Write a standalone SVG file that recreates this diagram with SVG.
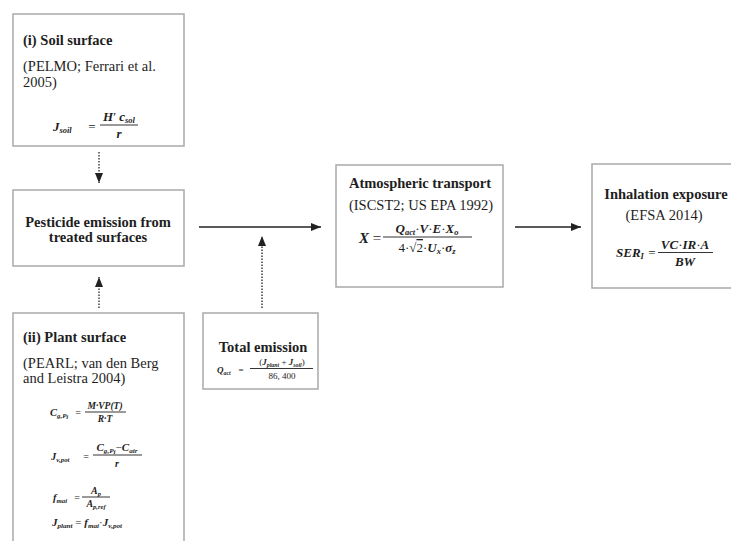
<svg xmlns="http://www.w3.org/2000/svg" width="731" height="541" viewBox="0 0 731 541">
<defs>
<style>
.box{fill:#fff;stroke:#a9a9a9;stroke-width:1.5}
.t{font-family:"Liberation Serif","Times New Roman",serif;fill:#1e1e1e}
.tb{font-family:"Liberation Serif","Times New Roman",serif;fill:#1e1e1e;font-weight:bold;font-size:14.5px}
.sub{font-family:"Liberation Serif","Times New Roman",serif;fill:#1e1e1e;font-size:14.5px}
.m{font-family:"Liberation Serif","Times New Roman",serif;fill:#1e1e1e;font-weight:bold;font-style:italic}
.n{font-style:normal;font-weight:normal}
.s{font-size:65%}
.fl{stroke:#1e1e1e;stroke-width:0.9}
.dot{stroke:#333;stroke-width:1.4;stroke-dasharray:1.5 1.5;fill:none}
.sol{stroke:#222;stroke-width:1.5;fill:none}
</style>
<marker id="ah" markerUnits="userSpaceOnUse" markerWidth="10" markerHeight="10" viewBox="0 0 10 10" refX="10" refY="5" orient="auto">
<path d="M0,1 L10,5 L0,9 Z" fill="#222"/>
</marker>
</defs>

<g id="connectors">
<line class="dot" x1="99" y1="152" x2="99" y2="183" marker-end="url(#ah)"/>
<line class="dot" x1="99" y1="308" x2="99" y2="277" marker-end="url(#ah)"/>
<line class="sol" x1="199" y1="227" x2="321" y2="227" marker-end="url(#ah)"/>
<line class="dot" x1="262" y1="308" x2="262" y2="236" marker-end="url(#ah)"/>
<line class="sol" x1="515" y1="227" x2="581" y2="227" marker-end="url(#ah)"/>
</g>

<g id="soil">
<rect class="box" x="13" y="14" width="171" height="132"/>
<text class="tb" x="23" y="45">(i) Soil surface</text>
<text class="sub" x="23" y="71">(PELMO; Ferrari et al.</text>
<text class="sub" x="23" y="87">2005)</text>
<text class="m" x="53" y="131" font-size="13">J<tspan class="s" dy="2">soil</tspan></text>
<text class="t" x="92" y="131" font-size="13" text-anchor="middle">=</text>
<text class="m" x="119" y="121" font-size="13" text-anchor="middle">H<tspan class="n">′</tspan> c<tspan class="s" dy="2">sol</tspan></text>
<line class="fl" x1="100" y1="125" x2="138" y2="125"/>
<text class="m" x="119" y="138" font-size="13" text-anchor="middle">r</text>
</g>

<g id="emission">
<rect class="box" x="13" y="190" width="171" height="76"/>
<text class="tb" x="98" y="227" text-anchor="middle">Pesticide emission from</text>
<text class="tb" x="98" y="242" text-anchor="middle">treated surfaces</text>
</g>

<g id="plant">
<rect class="box" x="13" y="313" width="171" height="240"/>
<text class="tb" x="23" y="342">(ii) Plant surface</text>
<text class="sub" x="23" y="368">(PEARL; van den Berg</text>
<text class="sub" x="23" y="383">and Leistra 2004)</text>
<text class="m" x="50" y="416" font-size="10.5">C<tspan class="s" dy="2">g,P</tspan><tspan class="s" font-size="80%" dy="1">i</tspan></text>
<text class="t" x="78" y="416" font-size="10" text-anchor="middle">=</text>
<text class="m" x="105" y="409" font-size="9.5" text-anchor="middle">M·VP(T)</text>
<line class="fl" x1="85" y1="412" x2="126" y2="412"/>
<text class="m" x="105" y="422" font-size="9.5" text-anchor="middle">R·T</text>

<text class="m" x="51" y="460" font-size="10.5">J<tspan class="s" dy="2">v,pot</tspan></text>
<text class="t" x="86" y="460" font-size="10" text-anchor="middle">=</text>
<text class="m" x="117" y="451" font-size="11" text-anchor="middle">C<tspan class="s" dy="2">g,P</tspan><tspan class="s" font-size="80%" dy="1">i</tspan><tspan class="n" dy="-3">−</tspan>C<tspan class="s" dy="2">air</tspan></text>
<line class="fl" x1="93" y1="455" x2="142" y2="455"/>
<text class="m" x="117" y="467" font-size="10" text-anchor="middle">r</text>

<text class="m" x="53" y="501" font-size="10.5">f<tspan class="s" dy="2">mai</tspan></text>
<text class="t" x="77" y="501" font-size="10" text-anchor="middle">=</text>
<text class="m" x="96" y="494" font-size="10" text-anchor="middle">A<tspan class="s" dy="2">p</tspan></text>
<line class="fl" x1="82" y1="497" x2="110" y2="497"/>
<text class="m" x="96" y="507" font-size="10" text-anchor="middle">A<tspan class="s" dy="2">p,ref</tspan></text>

<text class="m" x="52" y="526" font-size="11">J<tspan class="s" dy="2">plant</tspan><tspan class="n" dy="-2"> = </tspan>f<tspan class="s" dy="2">mai</tspan><tspan class="n" dy="-2">·</tspan>J<tspan class="s" dy="2">v,pot</tspan></text>
</g>

<g id="total">
<rect class="box" x="203" y="313" width="115" height="76"/>
<text class="tb" x="263" y="352" text-anchor="middle" font-size="15.5">Total emission</text>
<text class="m" x="217" y="373" font-size="9">Q<tspan class="s" dy="2">act</tspan></text>
<text class="t" x="241" y="373" font-size="9" text-anchor="middle">=</text>
<text class="m" x="282" y="365" font-size="9" text-anchor="middle"><tspan class="n">(</tspan>J<tspan class="s" dy="2">plant</tspan><tspan class="n" dy="-2"> + </tspan>J<tspan class="s" dy="2">soil</tspan><tspan class="n" dy="-2">)</tspan></text>
<line class="fl" x1="250" y1="368.5" x2="313" y2="368.5"/>
<text class="t" x="282" y="379" font-size="9" text-anchor="middle">86, 400</text>
</g>

<g id="atmospheric">
<rect class="box" x="336" y="165" width="167" height="122"/>
<text class="tb" x="420" y="188" text-anchor="middle">Atmospheric transport</text>
<text class="sub" x="421" y="210" text-anchor="middle" font-size="15.5">(ISCST2; US EPA 1992)</text>
<text class="m" x="359" y="243" font-size="15" fill="#1c2a4a">X</text>
<text class="t" x="377" y="243" font-size="15" text-anchor="middle" fill="#b06a6a">=</text>
<text class="m" x="427" y="233" font-size="13" text-anchor="middle">Q<tspan class="s" dy="2">act</tspan><tspan class="n" dy="-2">·</tspan>V<tspan class="n">·</tspan>E<tspan class="n">·</tspan>X<tspan class="s" dy="2">o</tspan></text>
<line class="fl" x1="383" y1="237" x2="472" y2="237"/>
<text class="m" x="427" y="252" font-size="13" text-anchor="middle"><tspan class="n">4·√</tspan><tspan class="n" text-decoration="overline">2</tspan><tspan class="n">·</tspan>U<tspan class="s" dy="2">x</tspan><tspan class="n" dy="-2">·</tspan>σ<tspan class="s" dy="2">z</tspan></text>
</g>

<g id="inhalation">
<rect class="box" x="592" y="164" width="150" height="124"/>
<text class="tb" x="666" y="199" text-anchor="middle">Inhalation exposure</text>
<text class="sub" x="664" y="220" text-anchor="middle" font-size="16">(EFSA 2014)</text>
<text class="m" x="616" y="257" font-size="13">SER<tspan class="s" dy="2">I</tspan></text>
<text class="t" x="652" y="257" font-size="13" text-anchor="middle">=</text>
<text class="m" x="685" y="249" font-size="13" text-anchor="middle">VC<tspan class="n">·</tspan>IR<tspan class="n">·</tspan>A</text>
<line class="fl" x1="658" y1="252.5" x2="713" y2="252.5"/>
<text class="m" x="685" y="266" font-size="13" text-anchor="middle">BW</text>
</g>
</svg>
